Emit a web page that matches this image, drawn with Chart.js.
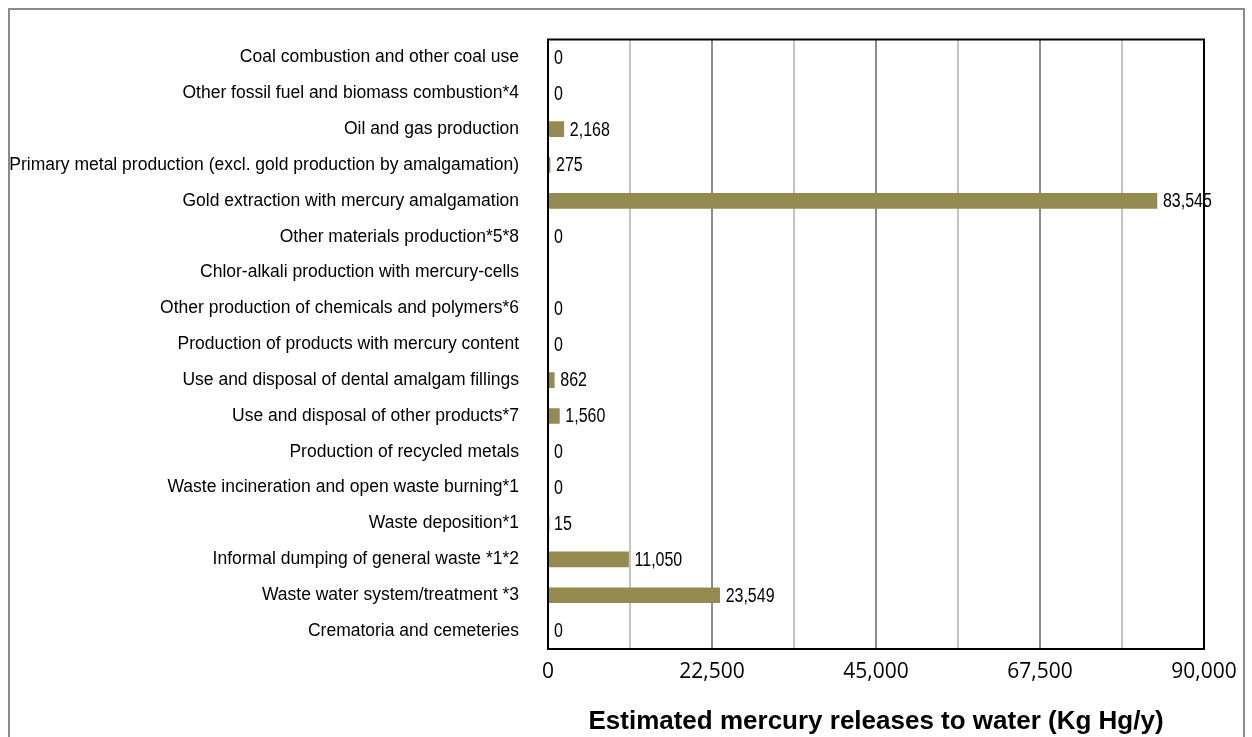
<!DOCTYPE html>
<html lang="en">
<head>
    <meta charset="UTF-8">
    <title>Estimated mercury releases to water</title>
    <script src="https://cdn.jsdelivr.net/npm/chart.js"></script>
    <style>
        html, body { margin: 0; padding: 0; background: #fff; }
        #wrap { width: 1252px; height: 737px; position: relative; }
    </style>
</head>
<body>
    <div id="wrap"><canvas id="chart"></canvas></div>

    <script>
        const categories = [
            'Coal combustion and other coal use',
            'Other fossil fuel and biomass combustion*4',
            'Oil and gas production',
            'Primary metal production (excl. gold production by amalgamation)',
            'Gold extraction with mercury amalgamation',
            'Other materials production*5*8',
            'Chlor-alkali production with mercury-cells',
            'Other production of chemicals and polymers*6',
            'Production of products with mercury content',
            'Use and disposal of dental amalgam fillings',
            'Use and disposal of other products*7',
            'Production of recycled metals',
            'Waste incineration and open waste burning*1',
            'Waste deposition*1',
            'Informal dumping of general waste *1*2',
            'Waste water system/treatment *3',
            'Crematoria and cemeteries'
        ];
        const releases = [0, 0, 2168, 275, 83545, 0, null, 0, 0, 862, 1560, 0, 0, 15, 11050, 23549, 0];
        const xTicks = [0, 22500, 45000, 67500, 90000];

        const narrow = '"Liberation Sans Narrow", "Arial Narrow", "Liberation Sans", Arial, sans-serif';

        // bar value labels + plot frame
        const labelsPlugin = {
            id: 'valueLabels',
            afterDatasetsDraw(chart) {
                const ctx = chart.ctx;
                const meta = chart.getDatasetMeta(0);
                meta.data.forEach((bar, i) => {
                    const v = releases[i];
                    if (v === null) return;
                    // squeeze the text sideways to look like a narrow face
                    ctx.save();
                    ctx.translate(bar.x + 6, bar.y + 1);
                    ctx.scale(0.82, 1);
                    ctx.font = '19.5px ' + narrow;
                    ctx.fillStyle = '#000';
                    ctx.textBaseline = 'middle';
                    ctx.fillText(v.toLocaleString('en-US'), 0, 0);
                    ctx.restore();
                });
            },
            afterDraw(chart) {
                const a = chart.chartArea;
                const ctx = chart.ctx;
                ctx.save();
                ctx.strokeStyle = '#000';
                ctx.lineWidth = 2;
                ctx.strokeRect(a.left, a.top, a.right - a.left, a.bottom - a.top);
                // outer picture border
                ctx.strokeStyle = '#8a8a8a';
                ctx.lineWidth = 2;
                ctx.strokeRect(9, 9, 1235, 740);
                ctx.restore();
            }
        };

        new Chart(document.getElementById('chart'), {
            type: 'bar',
            data: {
                labels: categories,
                datasets: [{
                    data: releases,
                    backgroundColor: '#958b50',
                    barThickness: 15
                }]
            },
            options: {
                indexAxis: 'y',
                responsive: true,
                maintainAspectRatio: false,
                animation: false,
                layout: { padding: { top: 37, right: 48, left: 0, bottom: 0 } },
                plugins: { legend: { display: false }, tooltip: { enabled: false } },
                scales: {
                    x: {
                        min: 0,
                        max: 90000,
                        afterBuildTicks(scale) {
                            const t = [];
                            for (let v = 0; v <= 90000; v += 11250) t.push({ value: v });
                            scale.ticks = t;
                        },
                        afterFit(scale) { scale.height = 88; },
                        grid: {
                            drawTicks: false,
                            lineWidth: 2,
                            color: ctx => {
                                const v = ctx.tick ? ctx.tick.value : 0;
                                if (v === 0 || v === 90000) return 'rgba(0,0,0,0)';
                                return v % 22500 === 0 ? '#8c8c8c' : '#c4c4c4';
                            }
                        },
                        border: { display: false },
                        ticks: {
                            padding: 10,
                            color: '#000',
                            font: { family: '"Open Sans", sans-serif', size: 21 },
                            callback: v => xTicks.includes(v) ? v.toLocaleString('en-US') : ''
                        },
                        title: {
                            display: true,
                            text: 'Estimated mercury releases to water (Kg Hg/y)',
                            color: '#000',
                            font: { family: narrow, size: 26, weight: 'bold' },
                            padding: { top: 8, bottom: 0 }
                        }
                    },
                    y: {
                        afterFit(scale) { scale.width = 548; },
                        grid: { display: false, drawTicks: false },
                        border: { display: false },
                        ticks: {
                            padding: 29,
                            color: '#000',
                            autoSkip: false,
                            font: { family: narrow, size: 17.5 }
                        }
                    }
                }
            },
            plugins: [labelsPlugin]
        });
    </script>
</body>
</html>
